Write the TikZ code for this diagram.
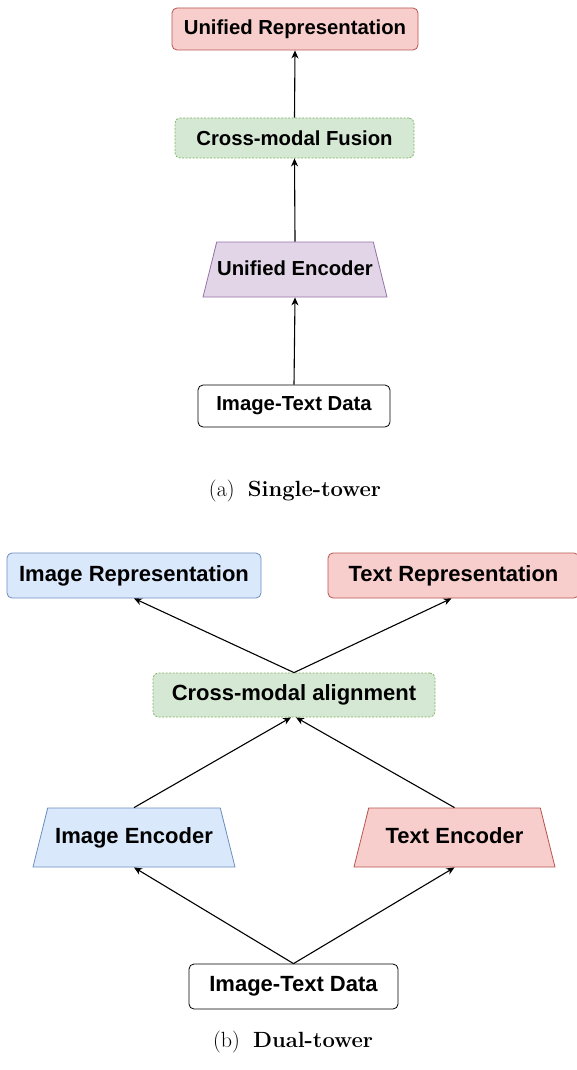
\documentclass[tikz,border=0pt]{standalone}
\usepackage{fontspec}
\setsansfont{Liberation Sans}
\usepackage{tikz}
\usetikzlibrary{shapes.geometric,arrows.meta}
\definecolor{redfill}{HTML}{F8CECC}
\definecolor{redline}{HTML}{B85450}
\definecolor{greenfill}{HTML}{D5E8D4}
\definecolor{greenline}{HTML}{82B366}
\definecolor{purplefill}{HTML}{E1D5E7}
\definecolor{purpleline}{HTML}{9673A6}
\definecolor{bluefill}{HTML}{DAE8FC}
\definecolor{blueline}{HTML}{6C8EBF}

\begin{document}
\begin{tikzpicture}[x=1pt, y=-1pt,
		box/.style={rectangle, rounded corners=5pt, draw, line width=0.8pt, inner sep=0pt, font=\sffamily\bfseries\fontsize{20.3}{24}\selectfont},
		bigbox/.style={box, font=\sffamily\bfseries\fontsize{22}{26}\selectfont},
		enc/.style={trapezium, trapezium stretches body=true, trapezium left angle=76, trapezium right angle=76, draw, line width=0.8pt, inner xsep=0pt, text height=15pt, text depth=4pt, inner ysep=18pt, font=\sffamily\bfseries\fontsize{20.3}{24}\selectfont},
		bigenc/.style={enc, text height=16pt, text depth=4.5pt, inner ysep=19.25pt, font=\sffamily\bfseries\fontsize{22}{26}\selectfont},
		link/.style={-{Stealth[length=8pt,width=7pt,inset=2.5pt]}, line width=1.1pt},
		capt/.style={font=\fontsize{22}{26}\selectfont}]
			\useasboundingbox (0,0) rectangle (576,1070);
			\node[box, fill=redfill, draw=redline, minimum width=246, minimum height=42] (urep) at (295,29) {Unified Representation};
			\node[box, fill=greenfill, draw=greenline, dash pattern=on 2pt off 1.5pt, minimum width=239, minimum height=40] (fusion) at (294.5,138) {Cross-modal Fusion};
			\node[enc, fill=purplefill, draw=purpleline, minimum width=184] (uenc) at (295,269.5) {Unified Encoder};
			\node[box, fill=white, draw=black, minimum width=192, minimum height=42] (sdata) at (294,406) {Image-Text Data};
			\node[capt] (capa) at (295,491) {(a)\hspace{0.6em}\textbf{Single-tower}};
			\draw[link] (sdata.north) -- (uenc.south);
			\draw[link] (uenc.north) -- (fusion.south);
			\draw[link] (fusion.north) -- (urep.south);

			\node[bigbox, fill=bluefill, draw=blueline, minimum width=254, minimum height=45] (irep) at (134,575.5) {Image Representation};
			\node[bigbox, fill=redfill, draw=redline, minimum width=251, minimum height=45] (trep) at (453.5,575.5) {Text Representation};
			\node[bigbox, fill=greenfill, draw=greenline, dash pattern=on 2pt off 1.5pt, minimum width=282, minimum height=44] (align) at (294,695) {Cross-modal alignment};
			\node[bigenc, fill=bluefill, draw=blueline, minimum width=202] (ienc) at (134,837.5) {Image Encoder};
			\node[bigenc, fill=redfill, draw=redline, minimum width=201] (tenc) at (454.5,837.5) {Text Encoder};
			\node[bigbox, fill=white, draw=black, minimum width=209, minimum height=45] (ddata) at (293.5,986.5) {Image-Text Data};
			\node[capt] (capb) at (293,1042) {(b)\hspace{0.6em}\textbf{Dual-tower}};
			\draw[link] (ddata.north) -- (ienc.south);
			\draw[link] (ddata.north) -- (tenc.south);
			\draw[link] (ienc.north) -- ([xshift=-3pt]align.south);
			\draw[link] (tenc.north) -- ([xshift=2pt]align.south);
			\draw[link] (align.north) -- (irep.south);
			\draw[link] (align.north) -- ([xshift=-2pt]trep.south);
		\end{tikzpicture}
\end{document}
